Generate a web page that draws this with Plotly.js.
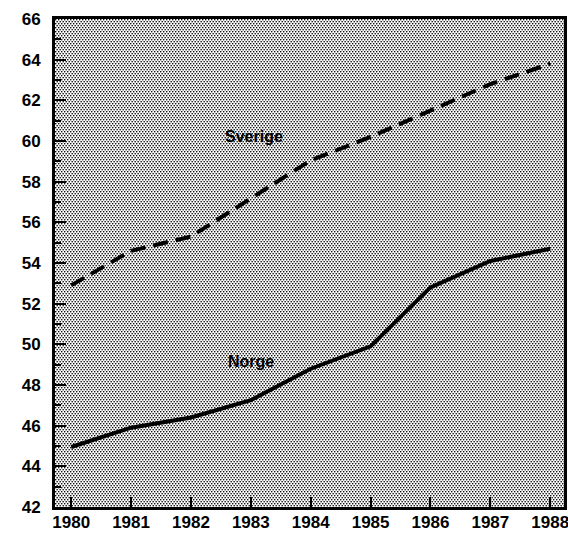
<!DOCTYPE html>
<html>
<head>
<meta charset="utf-8">
<script src="https://cdn.plot.ly/plotly-3.0.1.min.js"></script>
<style>html,body{margin:0;padding:0;background:#fff;}#chart{width:568px;height:533px;}</style>
</head>
<body>
<div id="chart"></div>
<script>
const years = [1980, 1981, 1982, 1983, 1984, 1985, 1986, 1987, 1988];
const norge = [44.95, 45.9, 46.4, 47.25, 48.8, 49.9, 52.8, 54.1, 54.7];
const sverige = [52.9, 54.6, 55.3, 57.2, 59.05, 60.2, 61.5, 62.8, 63.8];
const seriesNames = ['Norge', 'Sverige'];
const labelPos = [[1983.0, 49.15], [1983.05, 60.2]];
const yTickVals = [42, 44, 46, 48, 50, 52, 54, 56, 58, 60, 62, 64, 66];

const svg = "<svg xmlns='http://www.w3.org/2000/svg' width='509' height='488'>" +
  "<defs><pattern id='p' width='3' height='4' patternUnits='userSpaceOnUse'>" +
  "<rect x='0' y='0' width='1.4' height='1.4' fill='#111'/>" +
  "<rect x='1.5' y='2' width='1.4' height='1.4' fill='#111'/>" +
  "</pattern></defs><rect width='509' height='488' fill='#fff'/>" +
  "<rect width='509' height='488' fill='url(#p)'/></svg>";
const bg = 'data:image/svg+xml;charset=utf-8,' + encodeURIComponent(svg);

const traces = [
  {x: years, y: norge, name: seriesNames[0], type: 'scatter', mode: 'lines',
   line: {color: '#000', width: 4}},
  {x: years, y: sverige, name: seriesNames[1], type: 'scatter', mode: 'lines',
   line: {color: '#000', width: 4, dash: '15px,8px'}}
];

const font = {family: '"Liberation Sans", Arial, Helvetica, sans-serif', color: '#000'};

const layout = {
  width: 568, height: 533,
  margin: {l: 55, r: 4, t: 19, b: 26, pad: 0},
  paper_bgcolor: '#fff',
  plot_bgcolor: 'rgba(0,0,0,0)',
  showlegend: false,
  images: [{source: bg, xref: 'paper', yref: 'paper', x: 0, y: 1, sizex: 1, sizey: 1,
            sizing: 'stretch', layer: 'below', xanchor: 'left', yanchor: 'top'}],
  xaxis: {
    range: [1979.73, 1988.23], tickmode: 'array', tickvals: years,
    ticktext: years.map(String),
    ticks: 'inside', ticklen: 10, tickwidth: 2, tickcolor: '#000',
    showline: true, linecolor: '#000', linewidth: 3, mirror: true,
    showgrid: false, zeroline: false,
    tickfont: Object.assign({size: 17, weight: 'bold'}, font),
    ticklabelstandoff: -2, ticklabeloverflow: 'allow'
  },
  yaxis: {
    range: [42, 66], tickmode: 'array', tickvals: yTickVals,
    ticks: 'inside', ticklen: 11, tickwidth: 2, tickcolor: '#000',
    minor: {dtick: 1, tick0: 0, ticks: 'inside', ticklen: 6, tickwidth: 2, tickcolor: '#000', showgrid: false},
    showline: true, linecolor: '#000', linewidth: 3, mirror: true,
    showgrid: false, zeroline: false,
    tickfont: Object.assign({size: 17, weight: 'bold'}, font),
    ticklabelstandoff: 8, ticklabeloverflow: 'allow'
  },
  annotations: seriesNames.map((n, i) => ({
    x: labelPos[i][0], y: labelPos[i][1], xref: 'x', yref: 'y', text: n,
    showarrow: false, font: Object.assign({size: 16, weight: 'bold'}, font)
  }))
};

Plotly.newPlot('chart', traces, layout, {displayModeBar: false, staticPlot: true});
</script>
</body>
</html>
